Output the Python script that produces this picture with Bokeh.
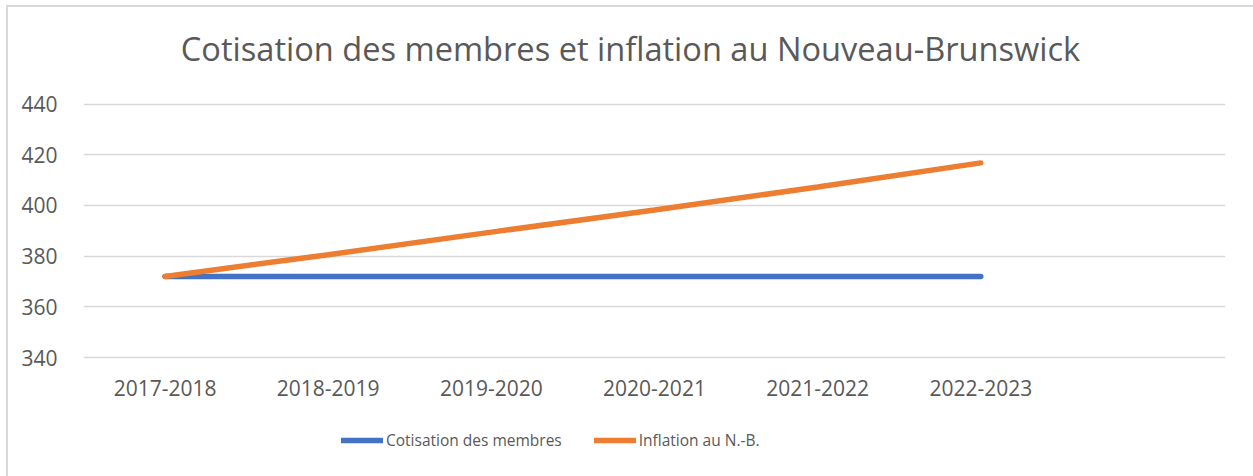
from bokeh.plotting import figure
from bokeh.models import FactorRange, Range1d, Legend, LegendItem, Label
from bokeh.embed import file_html
from bokeh.resources import INLINE

categories = ["2017-2018", "2018-2019", "2019-2020", "2020-2021", "2021-2022", "2022-2023"]
cotisation = [372, 372, 372, 372, 372, 372]
inflation = [372.0, 380.6, 389.5, 398.2, 407.3, 416.8]
y_ticks = [340, 360, 380, 400, 420, 440]
title_text = "Cotisation des membres et inflation au Nouveau-Brunswick"

FONT = "Open Sans"
GREY = "#595959"

p = figure(frame_width=1142, frame_height=469, output_backend="svg", toolbar_location=None,
           x_range=FactorRange(factors=categories + [""], range_padding=0),
           y_range=Range1d(293.1, 478.1),
           min_border_left=75, min_border_right=30, min_border_top=0, min_border_bottom=0)
p.styles = {"border-left": "2px solid #d9d9d9", "border-top": "2px solid #d9d9d9",
            "margin-left": "6px", "margin-top": "5px"}

p.outline_line_color = None
p.xgrid.grid_line_color = None
p.ygrid.grid_line_color = "#d9d9d9"
p.ygrid.grid_line_width = 1.5
p.yaxis.ticker = y_ticks
p.xaxis.fixed_location = y_ticks[0]

for ax in (p.xaxis[0], p.yaxis[0]):
    ax.axis_line_color = None
    ax.major_tick_line_color = None
    ax.minor_tick_line_color = None
    ax.major_label_text_font = FONT
    ax.major_label_text_font_size = "21px"
    ax.major_label_text_color = GREY
p.yaxis.major_label_standoff = 20
p.xaxis.major_label_standoff = 16

r1 = p.line(categories, cotisation, line_color="#4472c4", line_width=5.5, line_cap="round")
r2 = p.line(categories, inflation, line_color="#ed7d31", line_width=5.5, line_cap="round")

p.add_layout(Label(x=547, y=428, x_units="screen", y_units="screen", text=title_text,
                   text_font=FONT, text_font_size="32.6px", text_color=GREY,
                   text_align="center", text_baseline="middle"))

legend = Legend(items=[LegendItem(label="Cotisation des membres", renderers=[r1]),
                       LegendItem(label="Inflation au N.-B.", renderers=[r2])],
                orientation="horizontal", location=(258, 25),
                border_line_color=None, background_fill_alpha=0,
                label_text_font=FONT, label_text_font_size="15.5px", label_text_color=GREY,
                glyph_width=42, glyph_height=20, label_standoff=3, spacing=32,
                padding=0, margin=0)
p.add_layout(legend)

open("out.html", "w").write(file_html(p, INLINE))
